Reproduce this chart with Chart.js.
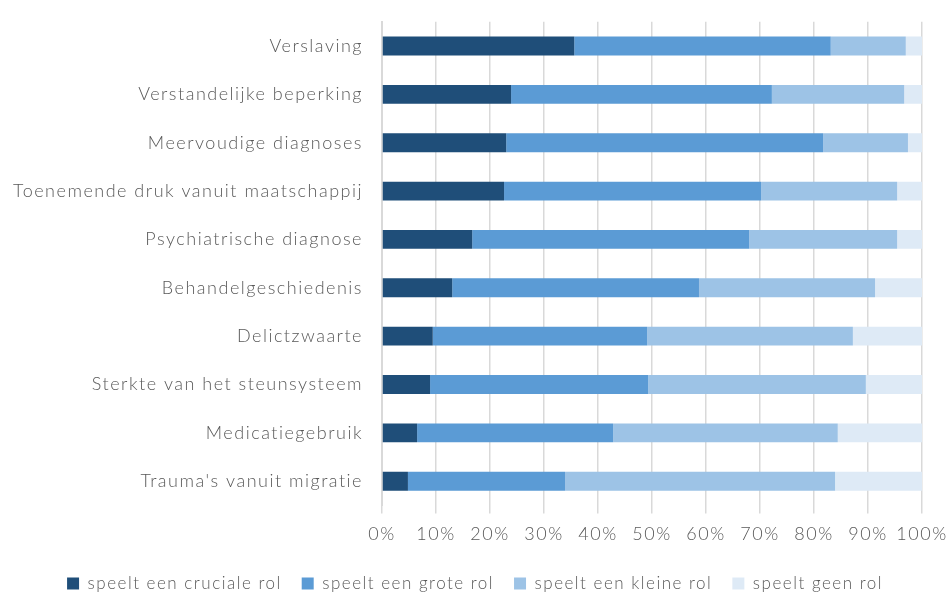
<!DOCTYPE html>
<html>
<head>
<meta charset="utf-8">
<script src="https://cdn.jsdelivr.net/npm/chart.js@4/dist/chart.umd.min.js"></script>
<style>
  html, body { margin: 0; padding: 0; background: #fff; }
  #wrap { width: 948px; height: 593px; }
</style>
</head>
<body>
<div id="wrap"><canvas id="grafiek"></canvas></div>
<script>
const categorieen = [
  "Verslaving",
  "Verstandelijke beperking",
  "Meervoudige diagnoses",
  "Toenemende druk vanuit maatschappij",
  "Psychiatrische diagnose",
  "Behandelgeschiedenis",
  "Delictzwaarte",
  "Sterkte van het steunsysteem",
  "Medicatiegebruik",
  "Trauma's vanuit migratie"
];

// percentages per categorie
const cruciaal = [35.6, 23.9, 23.0, 22.6, 16.7, 13.0, 9.4, 8.9, 6.5, 4.8];
const groot    = [47.5, 48.3, 58.7, 47.6, 51.3, 45.7, 39.7, 40.4, 36.3, 29.1];
const klein    = [13.9, 24.5, 15.7, 25.2, 27.4, 32.6, 38.1, 40.3, 41.6, 50.0];
const geen     = [3.0, 3.3, 2.6, 4.6, 4.6, 8.7, 12.8, 10.4, 15.6, 16.1];

const reeksNamen = [
  "speelt een cruciale rol",
  "speelt een grote rol",
  "speelt een kleine rol",
  "speelt geen rol"
];
const kleuren = ["#1F4E79", "#5B9BD5", "#9DC3E6", "#DEEAF6"];

const series = [cruciaal, groot, klein, geen];

// wat extra ruimte tussen de letters, zoals in het origineel
const spatiering = {
  id: "spatiering",
  beforeUpdate(chart) { chart.ctx.letterSpacing = "1.5px"; },
  beforeDraw(chart) { chart.ctx.letterSpacing = "1.5px"; }
};

const lettertype = { family: "Lato", size: 18, weight: 300 };

const ctx = document.getElementById("grafiek").getContext("2d");
new Chart(ctx, {
  type: "bar",
  data: {
    labels: categorieen,
    datasets: series.map((d, i) => ({
      label: reeksNamen[i],
      data: d,
      backgroundColor: kleuren[i],
      borderWidth: 0,
      barPercentage: 0.39,
      categoryPercentage: 1
    }))
  },
  options: {
    indexAxis: "y",
    responsive: true,
    maintainAspectRatio: false,
    animation: false,
    layout: { padding: { top: 6, right: 0, left: 2, bottom: -9 } },
    plugins: {
      tooltip: { enabled: false },
      legend: {
        position: "bottom",
        labels: {
          boxWidth: 12,
          boxHeight: 12,
          padding: 20,
          color: "#595959",
          font: { family: "Lato", size: 17, weight: 300 }
        }
      }
    },
    scales: {
      x: {
        stacked: true,
        min: 0,
        max: 100,
        afterFit: (scale) => { scale.paddingRight = 26; },
        ticks: {
          stepSize: 10,
          maxRotation: 0,
          autoSkip: false,
          color: "#595959",
          padding: 10,
          font: lettertype,
          callback: (v) => v + "%"
        },
        grid: { color: "#D9D9D9", lineWidth: 1.5, tickLength: 8 },
        border: { display: false }
      },
      y: {
        stacked: true,
        ticks: {
          color: "#595959",
          padding: 11,
          font: lettertype
        },
        grid: { display: false },
        border: { color: "#D9D9D9", width: 2 }
      }
    }
  },
  plugins: [spatiering]
});
</script>
</body>
</html>
